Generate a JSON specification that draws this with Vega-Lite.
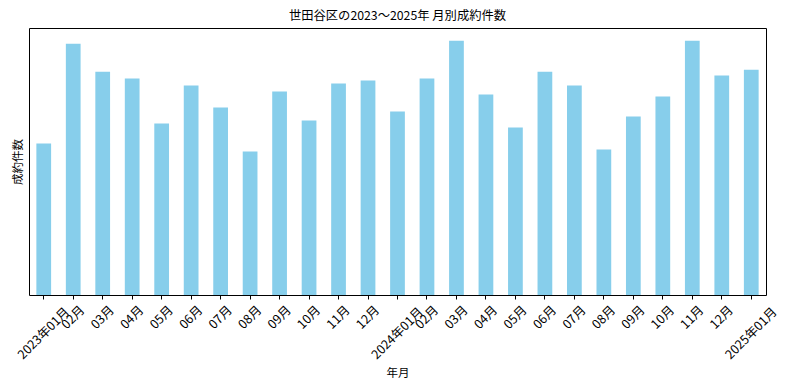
{
  "$schema": "https://vega.github.io/schema/vega-lite/v6.json",
  "width": 737,
  "height": 267,
  "autosize": {"type": "none"},
  "padding": {"left": 29, "top": 28, "right": 24, "bottom": 97},
  "background": "white",
  "title": {"text": "世田谷区の2023～2025年 月別成約件数", "font": "Noto Sans CJK JP", "fontSize": 12.3, "fontWeight": "normal", "color": "black", "offset": 6},
  "config": {
    "view": {"stroke": "black", "strokeWidth": 1},
    "axis": {"labelFont": "Noto Sans CJK JP", "titleFont": "Noto Sans CJK JP", "labelColor": "black", "titleColor": "black", "titleFontWeight": "normal", "labelFontSize": 12.5, "titleFontSize": 11.5, "grid": false}
  },
  "data": {"values": [
    {"ym": "2023年01月", "n": 152},
    {"ym": "02月 ", "n": 252},
    {"ym": "03月 ", "n": 224},
    {"ym": "04月 ", "n": 217},
    {"ym": "05月 ", "n": 172},
    {"ym": "06月 ", "n": 210},
    {"ym": "07月 ", "n": 188},
    {"ym": "08月 ", "n": 144},
    {"ym": "09月 ", "n": 204},
    {"ym": "10月 ", "n": 175},
    {"ym": "11月 ", "n": 212},
    {"ym": "12月 ", "n": 215},
    {"ym": "2024年01月", "n": 184},
    {"ym": "02月  ", "n": 217},
    {"ym": "03月  ", "n": 255},
    {"ym": "04月  ", "n": 201},
    {"ym": "05月  ", "n": 168},
    {"ym": "06月  ", "n": 224},
    {"ym": "07月  ", "n": 210},
    {"ym": "08月  ", "n": 146},
    {"ym": "09月  ", "n": 179},
    {"ym": "10月  ", "n": 199},
    {"ym": "11月  ", "n": 255},
    {"ym": "12月  ", "n": 220},
    {"ym": "2025年01月", "n": 226}
  ]},
  "mark": {"type": "bar", "color": "#87CEEB"},
  "encoding": {
    "x": {
      "field": "ym", "type": "nominal", "sort": null, "title": "年月",
      "scale": {"paddingInner": 0.5, "paddingOuter": 0.25},
      "axis": {
        "labelAngle": -45, "labelAlign": "center", "labelBaseline": "middle",
        "labelPadding": {"condition": {"test": "length(datum.label) > 5", "value": 34}, "value": 18},
        "tickColor": "black", "tickSize": 4, "domain": false, "titlePadding": 6
      }
    },
    "y": {
      "field": "n", "type": "quantitative", "title": "成約件数",
      "scale": {"domain": [0, 267.75], "nice": false},
      "axis": {"labels": false, "ticks": false, "domain": false, "titlePadding": 6}
    }
  }
}
